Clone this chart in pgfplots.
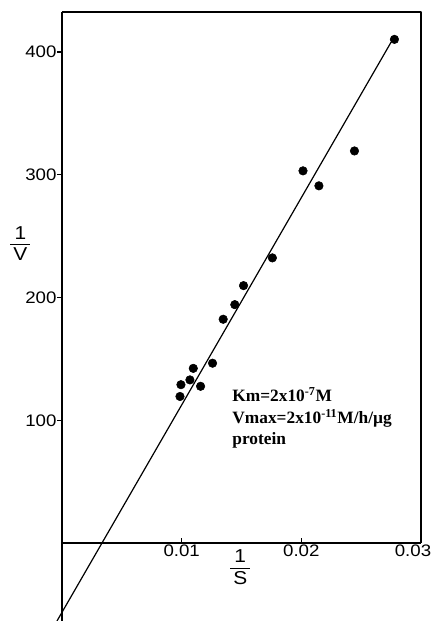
\documentclass[border=0pt]{standalone}
\usepackage{fontspec}
\usepackage{amsmath}
\usepackage{pgfplots}
\pgfplotsset{compat=1.18}
\setmainfont{Liberation Sans}
\newfontfamily\ticksf[FakeStretch=1.12]{Liberation Sans}
\newfontfamily\notefont{Liberation Serif}

% tick label text, kept out of math mode
\newcommand{\tk}[1]{\hbox{\ticksf\fontsize{12.5}{12.5}\selectfont #1}}
% sans fraction 1/x for the axis labels
\newcommand{\recip}[1]{$\genfrac{}{}{0.7pt}{0}%
  {\hbox to 15pt{\hss\ticksf\fontsize{14}{14}\selectfont 1\hss}}%
  {\hbox to 15pt{\hss\ticksf\fontsize{14}{14}\selectfont #1\hss}}$}

\pgfplotstableread{
x       y
0.00986 119.4
0.00994 129.0
0.01069 132.9
0.01097 142.3
0.01158 127.7
0.01258 146.5
0.01347 182.3
0.01444 194.2
0.01517 209.7
0.01758 232.3
0.02014 303.2
0.02147 291.0
0.02444 319.4
0.02778 410.3
}\datatable

\begin{document}
\begin{tikzpicture}
\begin{axis}[
  scale only axis,
  width=269.25pt, height=456.75pt,
  xmin=0, xmax=0.03, ymin=-63.5, ymax=432.6,
  axis x line=middle, axis y line=left,
  axis line style={-, line width=0.9pt},
  xtick={0.01,0.02,0.03},
  xticklabels={\tk{0.01},\tk{0.02},\tk{\hspace*{-12pt}0.03}},
  xticklabel style={inner ysep=1.5pt},
  ytick={100,200,300,400},
  yticklabels={\tk{100},\tk{200},\tk{300},\tk{400}},
  yticklabel style={inner xsep=0.5pt},
  xtick align=inside, ytick align=outside,
  major tick length=3.5pt,
  tick style={black, line width=0.8pt},
  scaled x ticks=false,
  clip=false,
]
\coordinate (sw) at (rel axis cs:0,0);
\coordinate (ne) at (rel axis cs:1,1);
\draw[line width=0.9pt, line join=round] (rel axis cs:0,1) -- (rel axis cs:1,1) -- (axis cs:0.03,0);

\addplot[black, line width=0.9pt] coordinates {(-0.00042,-63.5) (0.0275,408)};
\addplot[only marks, mark=*, mark size=3.2pt, black] table {\datatable};

\node at (axis cs:-0.00348,244) {\recip{V}};
\node at (axis cs:0.0149,-20) {\recip{S}};
\node[anchor=base west, align=left, inner sep=0pt,
      font=\notefont\bfseries\fontsize{13}{16.3}\selectfont]
  at (axis cs:0.01422,80)
  {Km=2x10\textsuperscript{-7}M\\
   Vmax=2x10\textsuperscript{-11}M/h/µg\\
   protein};
\end{axis}
\pgfresetboundingbox
\path[use as bounding box] ([xshift=-46.5pt]sw) rectangle ([xshift=8.25pt,yshift=9pt]ne);
\end{tikzpicture}
\end{document}
